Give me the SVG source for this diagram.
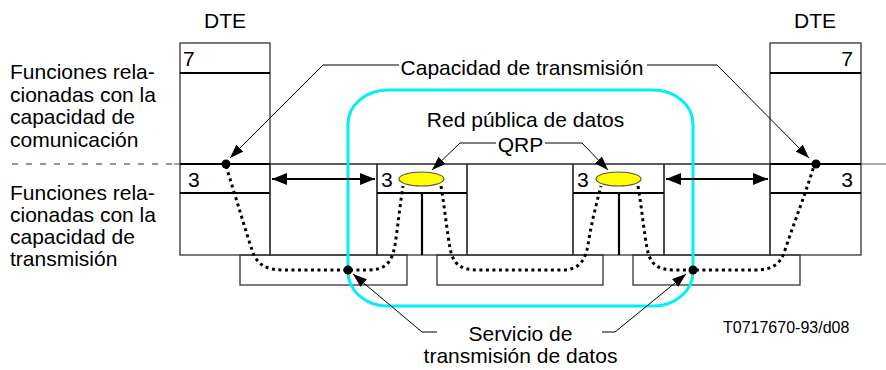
<svg xmlns="http://www.w3.org/2000/svg" width="886" height="370" viewBox="0 0 886 370">
<defs>
<marker id="ah" viewBox="0 0 15 12" refX="15" refY="6" markerWidth="15" markerHeight="12" markerUnits="userSpaceOnUse" orient="auto-start-reverse">
<path d="M0,0 L15,6 L0,12 z" fill="#000"/>
</marker>
<marker id="ahs" viewBox="0 0 14 10" refX="14" refY="5" markerWidth="14" markerHeight="10" markerUnits="userSpaceOnUse" orient="auto">
<path d="M0,0 L14,5 L0,10 z" fill="#000"/>
</marker>
<style>
text{font-family:"Liberation Sans",Arial,sans-serif;font-size:21px;fill:#000}
.box{fill:none;stroke:#333;stroke-width:1.3}
.thick{stroke:#000;stroke-width:2.2}
.lead{fill:none;stroke:#000;stroke-width:1}
.dot{fill:none;stroke:#000;stroke-width:3;stroke-dasharray:3 3.5}
.qrp{fill:#ffff00;stroke:#555;stroke-width:1.2}
</style>
</defs>
<rect width="886" height="370" fill="#fff"/>

<g id="labels-left">
<text x="10" y="79">Funciones rela-</text>
<text x="10" y="101.5">cionadas con la</text>
<text x="10" y="124">capacidad de</text>
<text x="10" y="146.5">comunicación</text>
<text x="10" y="200">Funciones rela-</text>
<text x="10" y="222">cionadas con la</text>
<text x="10" y="244">capacidad de</text>
<text x="10" y="266">transmisión</text>
</g>

<g id="divider">
<line x1="12" y1="164" x2="174" y2="164" stroke="#333" stroke-width="1.2" stroke-dasharray="6 8"/>
<line x1="174" y1="164" x2="886" y2="164" stroke="#555" stroke-width="1"/>
</g>

<g id="dte-left">
<text x="225" y="28" text-anchor="middle">DTE</text>
<rect class="box" x="180" y="43" width="90" height="212"/>
<line class="thick" x1="180" y1="73" x2="270" y2="73"/>
<line class="thick" x1="180" y1="164" x2="270" y2="164"/>
<line class="thick" x1="180" y1="193" x2="270" y2="193"/>
<text x="183" y="66">7</text>
<text x="188" y="187">3</text>
</g>

<g id="dte-right">
<text x="815" y="28" text-anchor="middle">DTE</text>
<rect class="box" x="770" y="43" width="91" height="212"/>
<line class="thick" x1="770" y1="73" x2="861" y2="73"/>
<line class="thick" x1="770" y1="164" x2="861" y2="164"/>
<line class="thick" x1="770" y1="193" x2="861" y2="193"/>
<text x="853" y="66" text-anchor="end">7</text>
<text x="853" y="187" text-anchor="end">3</text>
</g>

<g id="links">
<rect class="box" x="270" y="164" width="107" height="91"/>
<rect class="box" x="467" y="164" width="106" height="91"/>
<rect class="box" x="664" y="164" width="106" height="91"/>
<rect class="box" x="240" y="255" width="167" height="30"/>
<rect class="box" x="437" y="255" width="166" height="30"/>
<rect class="box" x="633" y="255" width="167" height="30"/>
</g>

<g id="node-a">
<rect class="box" x="377" y="164" width="90" height="91"/>
<line class="thick" x1="377" y1="193" x2="467" y2="193"/>
<line class="thick" x1="422" y1="193" x2="422" y2="255"/>
<text x="381" y="187">3</text>
</g>

<g id="node-b">
<rect class="box" x="573" y="164" width="91" height="91"/>
<line class="thick" x1="573" y1="193" x2="664" y2="193"/>
<line class="thick" x1="619" y1="193" x2="619" y2="255"/>
<text x="577" y="187">3</text>
</g>

<g id="network">
<rect x="348" y="90" width="345" height="216" rx="40" ry="34" fill="none" stroke="#00F0F5" stroke-width="3"/>
<text x="525.5" y="127" text-anchor="middle">Red pública de datos</text>
</g>

<g id="connectors">
<line x1="272" y1="179" x2="375" y2="179" stroke="#000" stroke-width="2" marker-start="url(#ah)" marker-end="url(#ah)"/>
<line x1="666" y1="179" x2="768" y2="179" stroke="#000" stroke-width="2" marker-start="url(#ah)" marker-end="url(#ah)"/>

<path class="dot" d="M226,166 C236,198 246,232 252,250 C257,265 266,270 284,270 L368,270 C386,270 392,262 395,245 C398,225 400,205 403,186"/>
<path class="dot" d="M441,186 C445,210 447,232 450,248 C453,264 460,270 478,270 L562,270 C578,270 585,262 588,245 C591,225 596,205 601,186"/>
<path class="dot" d="M638,186 C642,210 644,232 647,248 C650,264 657,270 675,270 L755,270 C775,270 781,262 785,250 C795,220 805,195 814,166"/>
<circle cx="226" cy="164" r="4.5"/>
<circle cx="816" cy="164" r="4.5"/>
<circle cx="348" cy="270" r="4.5"/>
<circle cx="693" cy="270" r="4.5"/>

<polyline class="lead" points="399,65 323,65 230,158" marker-end="url(#ahs)"/>
<polyline class="lead" points="647,65 717,65 809,158" marker-end="url(#ahs)"/>
<polyline class="lead" points="496,143 460,143 432,170" marker-end="url(#ahs)"/>
<polyline class="lead" points="545,143 582,143 608,170" marker-end="url(#ahs)"/>
<polyline class="lead" points="437,332 422,332 353,274" marker-end="url(#ahs)"/>
<polyline class="lead" points="602,332 615,332 686,274" marker-end="url(#ahs)"/>
</g>

<g id="qrp">
<ellipse class="qrp" cx="421.5" cy="179" rx="22.5" ry="7"/>
<ellipse class="qrp" cx="618.5" cy="179" rx="22.5" ry="7"/>
</g>

<g id="annotations">
<text x="522" y="75" text-anchor="middle">Capacidad de transmisión</text>
<text x="520.5" y="152" text-anchor="middle">QRP</text>
<text x="520.5" y="341" text-anchor="middle">Servicio de</text>
<text x="520.5" y="363" text-anchor="middle">transmisión de datos</text>
<text x="723" y="333" style="font-size:16px">T0717670-93/d08</text>
</g>
</svg>
